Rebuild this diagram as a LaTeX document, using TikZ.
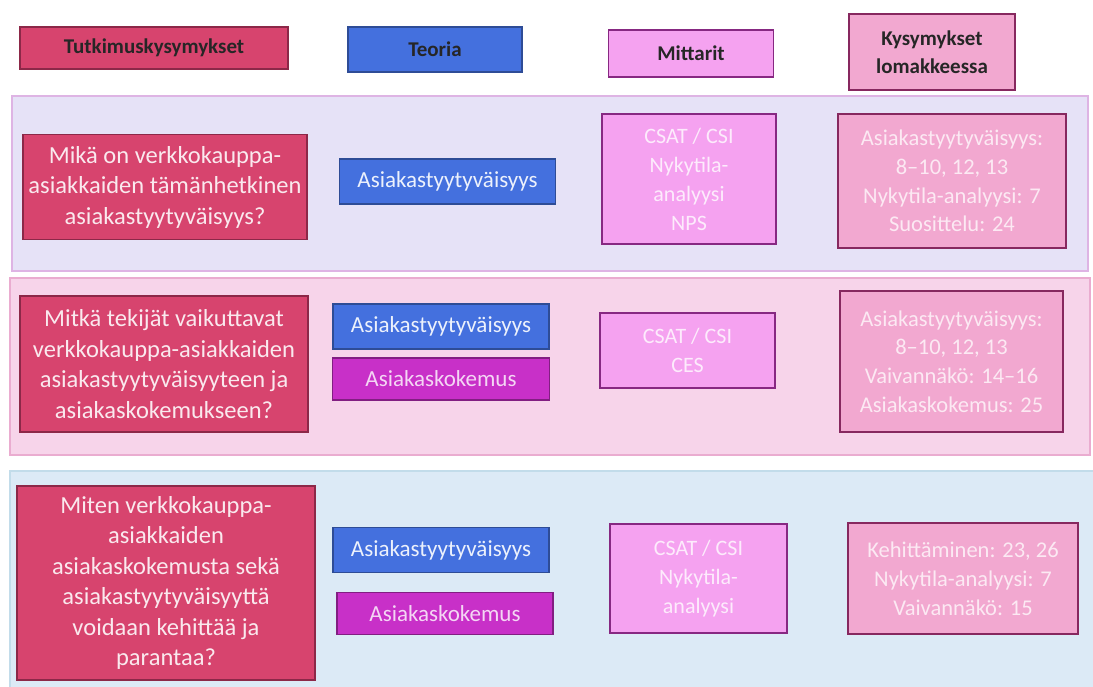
\documentclass[tikz,border=0pt]{standalone}
\usepackage{fontspec}
\setmainfont{Carlito}
\usetikzlibrary{positioning}
\definecolor{qfill}{RGB}{215,68,110}
\definecolor{qline}{RGB}{140,40,72}
\definecolor{tfill}{RGB}{68,112,222}
\definecolor{tline}{RGB}{46,76,150}
\definecolor{kfill}{RGB}{200,48,200}
\definecolor{kline}{RGB}{130,30,130}
\definecolor{mfill}{RGB}{245,162,240}
\definecolor{mline}{RGB}{135,40,130}
\definecolor{lfill}{RGB}{242,168,208}
\definecolor{lline}{RGB}{135,40,95}
\definecolor{bandA}{RGB}{230,226,247}
\definecolor{bandAline}{RGB}{222,180,228}
\definecolor{bandB}{RGB}{247,212,234}
\definecolor{bandBline}{RGB}{234,172,208}
\definecolor{bandC}{RGB}{220,234,246}
\definecolor{bandCline}{RGB}{194,220,234}

\begin{document}
\begin{tikzpicture}[
  x=1pt, y=-1pt,
  box/.style={draw, line width=1.3pt, align=center, inner sep=2pt},
  headbox/.style={box, text=black!85, font=\fontsize{21}{28}\selectfont\bfseries},
  qbox/.style={box, fill=qfill, draw=qline, text=white!88!qfill, font=\fontsize{24.5}{30.5}\selectfont},
  teorbox/.style={box, fill=tfill, draw=tline, text=white!90!tfill, font=\fontsize{23}{26}\selectfont},
  kokbox/.style={box, fill=kfill, draw=kline, text=white!80!kfill, font=\fontsize{23}{26}\selectfont},
  mitbox/.style={box, fill=mfill, draw=mline, text=white!78!mfill, font=\fontsize{22}{29}\selectfont},
  lombox/.style={box, fill=lfill, draw=lline, text=white!75!lfill, font=\fontsize{22.5}{28.8}\selectfont},
  band/.style={line width=1.2pt},
]
\useasboundingbox (0,0) rectangle (1093,686);

% ---------- bands ----------
\draw[band, fill=bandA, draw=bandAline] (12,96) rectangle (1088,271);
\draw[band, fill=bandB, draw=bandBline] (10,278) rectangle (1090,455);
\draw[band, fill=bandC, draw=bandCline] (10,471) rectangle (1096,690);

% ---------- header row ----------
\node[headbox, fill=qfill, draw=qline, minimum width=268pt, minimum height=42pt] (hq) at (154,48) {Tutkimuskysymykset};
\node[headbox, fill=tfill, draw=tline, minimum width=174pt, minimum height=45pt] (ht) at (435,49.5) {Teoria};
\node[headbox, fill=mfill, draw=mline, minimum width=165pt, minimum height=47pt] (hm) at (691,53.5) {Mittarit};
\node[headbox, fill=lfill, draw=lline, minimum width=166pt, minimum height=76pt] (hl) at (932,52) {Kysymykset\\lomakkeessa};

% ---------- row 1 ----------
\node[qbox, minimum width=284pt, minimum height=105pt] (q1) at (165,187)
  {Mikä on verkkokauppa-\\asiakkaiden tämänhetkinen\\asiakastyytyväisyys?};
\node[teorbox, minimum width=216pt, minimum height=45pt] (t1) at (447.5,181.5) {Asiakastyytyväisyys};
\node[mitbox, minimum width=174pt, minimum height=130pt] (m1) at (689,179)
  {CSAT / CSI\\Nykytila-\\analyysi\\NPS};
\node[lombox, minimum width=228pt, minimum height=134pt] (l1) at (952,181)
  {Asiakastyytyväisyys:\\8--10, 12, 13\\Nykytila-analyysi: 7\\Suosittelu: 24};

% ---------- row 2 ----------
\node[qbox, minimum width=288pt, minimum height=136pt] (q2) at (164,364)
  {Mitkä tekijät vaikuttavat\\verkkokauppa-asiakkaiden\\asiakastyytyväisyyteen ja\\asiakaskokemukseen?};
\node[teorbox, minimum width=216pt, minimum height=45pt] (t2) at (441,326.5) {Asiakastyytyväisyys};
\node[kokbox, minimum width=217pt, minimum height=42pt] (s2) at (441,379) {Asiakaskokemus};
\node[mitbox, minimum width=175pt, minimum height=75pt] (m2) at (687.5,350.5)
  {CSAT / CSI\\CES};
\node[lombox, minimum width=223pt, minimum height=141pt] (l2) at (951.5,361.5)
  {Asiakastyytyväisyys:\\8--10, 12, 13\\Vaivannäkö: 14--16\\Asiakaskokemus: 25};

% ---------- row 3 ----------
\node[qbox, minimum width=298pt, minimum height=194pt] (q3) at (166,583)
  {Miten verkkokauppa-\\asiakkaiden\\asiakaskokemusta sekä\\asiakastyytyväisyyttä\\voidaan kehittää ja\\parantaa?};
\node[teorbox, minimum width=216pt, minimum height=45pt] (t3) at (441,550) {Asiakastyytyväisyys};
\node[kokbox, minimum width=216pt, minimum height=42pt] (s3) at (445,613.5) {Asiakaskokemus};
\node[mitbox, minimum width=177pt, minimum height=109pt] (m3) at (698.5,578.5)
  {CSAT / CSI\\Nykytila-\\analyysi};
\node[lombox, minimum width=230pt, minimum height=111pt] (l3) at (963,578.5)
  {Kehittäminen: 23, 26\\Nykytila-analyysi: 7\\Vaivannäkö: 15};

\end{tikzpicture}
\end{document}
